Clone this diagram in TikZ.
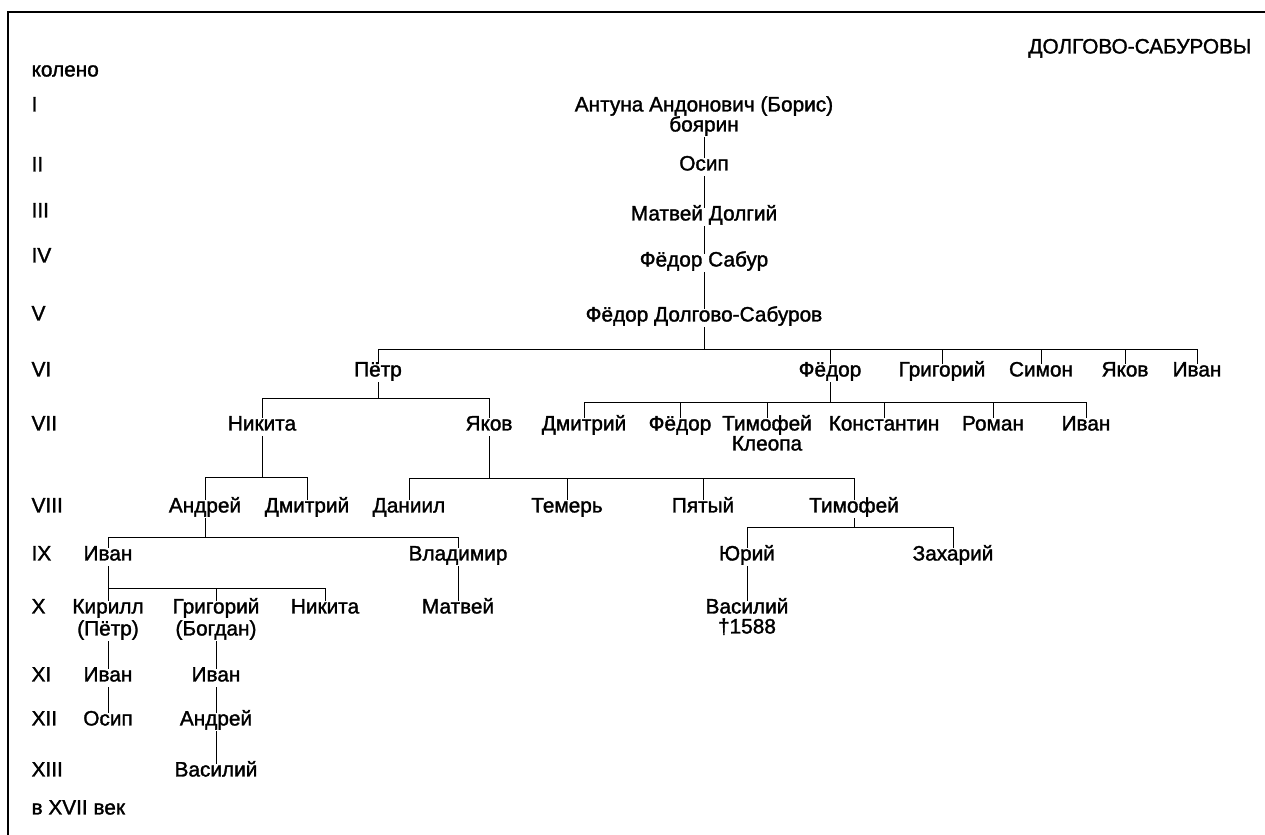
\documentclass[tikz,border=0pt]{standalone}
\usepackage{fontspec}
\setmainfont{Liberation Sans}[FakeBold=1.5]
\begin{document}
\begin{tikzpicture}[x=0.75pt,y=-0.75pt,
  every node/.style={font=\fontsize{15.6}{18}\selectfont, inner xsep=1pt, inner ysep=2pt, text height=0.72em, text depth=0.2em},
  lbl/.style={anchor=west},
  conn/.style={line width=0.65pt},
  frame/.style={line width=1.4pt}]
\useasboundingbox (0,0) rectangle (1265,835);
\fill[white] (0,0) rectangle (1265,835);
\draw[frame] (8,835) -- (8,12) -- (1265,12);

% title
\node[anchor=east] (title) at (1253,50) {ДОЛГОВО-САБУРОВЫ};

% generation labels
\node[lbl] (kol) at (30,73) {колено};
\node[lbl] (gI) at (30,108) {I};
\node[lbl] (gII) at (30,168) {II};
\node[lbl] (gIII) at (30,214) {III};
\node[lbl] (gIV) at (30,259) {IV};
\node[lbl] (gV) at (30,317) {V};
\node[lbl] (gVI) at (30,373) {VI};
\node[lbl] (gVII) at (30,427) {VII};
\node[lbl] (gVIII) at (30,509) {VIII};
\node[lbl] (gIX) at (30,557) {IX};
\node[lbl] (gX) at (30,610) {X};
\node[lbl] (gXI) at (30,678) {XI};
\node[lbl] (gXII) at (30,722) {XII};
\node[lbl] (gXIII) at (30,773) {XIII};
\node[lbl] (gXVII) at (30,811) {в XVII век};

% bar levels
\coordinate (yV) at (0,349);
\coordinate (yP) at (0,398);
\coordinate (yF) at (0,402);
\coordinate (yN) at (0,477);
\coordinate (yJ) at (0,478);
\coordinate (yA) at (0,537);
\coordinate (yT) at (0,527);
\coordinate (yI) at (0,588);

% I - V
\node (a1) at (704,108) {Антуна Андонович (Борис)};
\node (a2) at (704,128) {боярин};
\node (b) at (704,167) {Осип};
\node (c) at (704,217) {Матвей Долгий};
\node (d) at (704,263) {Фёдор Сабур};
\node (e) at (704,318) {Фёдор Долгово-Сабуров};
\draw[conn] (a2.south) -- (b.north);
\draw[conn] (b.south) -- (c.north);
\draw[conn] (c.south) -- (d.north);
\draw[conn] (d.south) -- (e.north);

% VI
\node (f1) at (378,373) {Пётр};
\node (f2) at (830,373) {Фёдор};
\node (f3) at (942,373) {Григорий};
\node (f4) at (1041,373) {Симон};
\node (f5) at (1125,373) {Яков};
\node (f6) at (1197,373) {Иван};
\draw[conn] (e.south) -- (e.south |- yV);
\draw[conn] (f1.north) |- (f6.north |- yV) -- (f6.north);
\foreach \n in {f2,f3,f4,f5} \draw[conn] (\n.north) -- (\n.north |- yV);

% VII
\node (g1) at (262,427) {Никита};
\node (g2) at (489,427) {Яков};
\draw[conn] (f1.south) -- (f1.south |- yP);
\draw[conn] (g1.north) |- (g2.north |- yP) -- (g2.north);

\node (h1) at (584,427) {Дмитрий};
\node (h2) at (680,427) {Фёдор};
\node (h3) at (767,427) {Тимофей};
\node (h3b) at (767,447) {Клеопа};
\node (h4) at (884,427) {Константин};
\node (h5) at (993,427) {Роман};
\node (h6) at (1086,427) {Иван};
\draw[conn] (f2.south) -- (f2.south |- yF);
\draw[conn] (h1.north) |- (h6.north |- yF) -- (h6.north);
\foreach \n in {h2,h3,h4,h5} \draw[conn] (\n.north) -- (\n.north |- yF);

% VIII
\node (i1) at (205,509) {Андрей};
\node (i2) at (307,509) {Дмитрий};
\draw[conn] (g1.south) -- (g1.south |- yN);
\draw[conn] (i1.north) |- (i2.north |- yN) -- (i2.north);

\node (j1) at (409,509) {Даниил};
\node (j2) at (567,509) {Темерь};
\node (j3) at (703,509) {Пятый};
\node (j4) at (854,509) {Тимофей};
\draw[conn] (g2.south) -- (g2.south |- yJ);
\draw[conn] (j1.north) |- (j4.north |- yJ) -- (j4.north);
\foreach \n in {j2,j3} \draw[conn] (\n.north) -- (\n.north |- yJ);

% IX
\node (k1) at (108,557) {Иван};
\node (k2) at (458,557) {Владимир};
\draw[conn] (i1.south) -- (i1.south |- yA);
\draw[conn] (k1.north) |- (k2.north |- yA) -- (k2.north);

\node (l1) at (747,557) {Юрий};
\node (l2) at (953,557) {Захарий};
\draw[conn] (j4.south) -- (j4.south |- yT);
\draw[conn] (l1.north) |- (l2.north |- yT) -- (l2.north);

% X
\node (m1) at (108,610) {Кирилл};
\node (m1b) at (108,632) {(Пётр)};
\node (m2) at (216,610) {Григорий};
\node (m2b) at (216,632) {(Богдан)};
\node (m3) at (325,610) {Никита};
\draw[conn] (k1.south) -- (m1.north);
\draw[conn] (m1.north |- yI) -| (m3.north);
\draw[conn] (m2.north) -- (m2.north |- yI);

\node (n1) at (458,610) {Матвей};
\draw[conn] (k2.south) -- (n1.north);

\node (o1) at (747,610) {Василий};
\node (o1b) at (747,630) {†1588};
\draw[conn] (l1.south) -- (o1.north);

% XI - XIII
\node (p1) at (108,678) {Иван};
\node (p2) at (216,678) {Иван};
\node (q1) at (108,722) {Осип};
\node (q2) at (216,722) {Андрей};
\node (r2) at (216,773) {Василий};
\draw[conn] (m1b.south) -- (p1.north);
\draw[conn] (m2b.south) -- (p2.north);
\draw[conn] (p1.south) -- (q1.north);
\draw[conn] (p2.south) -- (q2.north);
\draw[conn] (q2.south) -- (r2.north);
\end{tikzpicture}
\end{document}
